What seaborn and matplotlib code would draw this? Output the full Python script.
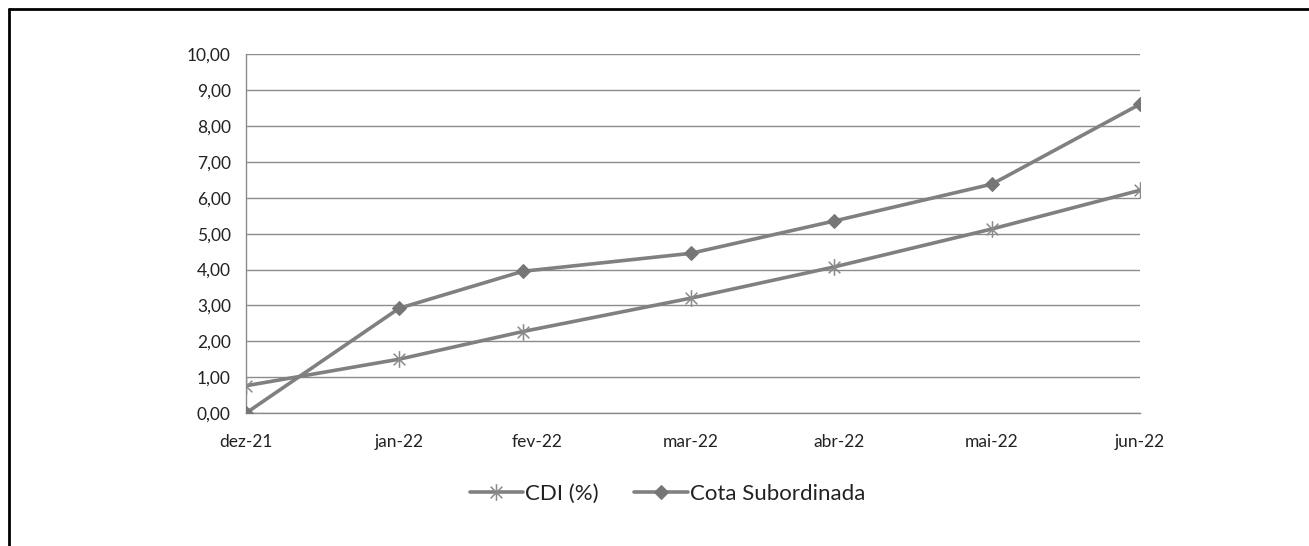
import pandas as pd
import numpy as np
import matplotlib
matplotlib.use("Agg")
import matplotlib.pyplot as plt
from matplotlib.path import Path
from matplotlib.lines import Line2D
import seaborn as sns

sns.set_style("white")
plt.rcParams["font.family"] = ["Lato", "DejaVu Sans"]

# data
dates = pd.to_datetime(["2021-12-31", "2022-01-31", "2022-02-25", "2022-03-31",
                        "2022-04-29", "2022-05-31", "2022-06-30"])
cdi = [0.76, 1.50, 2.27, 3.20, 4.07, 5.13, 6.21]
cota = [0.00, 2.92, 3.95, 4.45, 5.35, 6.38, 8.61]
tick_dates = pd.to_datetime(["2021-12-31", "2022-01-31", "2022-02-28", "2022-03-31",
                             "2022-04-30", "2022-05-31", "2022-06-30"])
tick_labels = ["dez-21", "jan-22", "fev-22", "mar-22", "abr-22", "mai-22", "jun-22"]

df = pd.DataFrame({"data": dates, "CDI (%)": cdi, "Cota Subordinada": cota})

# asterisk marker like excel (x + vertical bar)
star = Path([(-0.7, -0.7), (0.7, 0.7), (-0.7, 0.7), (0.7, -0.7), (0, -1), (0, 1)],
            [Path.MOVETO, Path.LINETO, Path.MOVETO, Path.LINETO, Path.MOVETO, Path.LINETO])

fig = plt.figure(figsize=(13.09, 5.46), dpi=100)
ax = fig.add_axes([0.188, 0.2436, 0.683, 0.657])

line_col = "#808080"
sns.lineplot(data=df, x="data", y="CDI (%)", ax=ax, color=line_col, lw=2.6,
             marker=star, markersize=12, markeredgecolor="#8a8a8a", markeredgewidth=1.1,
             label="CDI (%)", zorder=3)
sns.lineplot(data=df, x="data", y="Cota Subordinada", ax=ax, color=line_col, lw=2.6,
             marker="D", markersize=7.5, markerfacecolor="#767676", markeredgecolor="#767676",
             label="Cota Subordinada", zorder=4)

ax.set_xlim(tick_dates[0], tick_dates[-1])
ax.set_ylim(0, 10)
ax.set_yticks(np.arange(0, 11, 1))
ax.set_yticklabels([f"{v:.2f}".replace(".", ",") for v in np.arange(0, 11, 1)])
ax.set_xticks(tick_dates)
ax.set_xticklabels(tick_labels)
ax.set_xlabel("")
ax.set_ylabel("")

ax.grid(axis="y", color="#8c8c8c", lw=1)
ax.set_axisbelow(True)
for s in ["top", "right"]:
    ax.spines[s].set_visible(False)
for s in ["left", "bottom"]:
    ax.spines[s].set_color("#8c8c8c")
    ax.spines[s].set_linewidth(1)
ax.tick_params(axis="both", which="major", direction="out", length=5, width=1,
               color="#8c8c8c", labelsize=12.5, labelcolor="#222222")
ax.tick_params(axis="x", pad=10)
ax.tick_params(axis="y", pad=6)

leg = ax.legend(loc="center", bbox_to_anchor=(0.51, 0.095), bbox_transform=fig.transFigure,
                ncol=2, frameon=False, fontsize=16, handlelength=2.4, columnspacing=1.6,
                handletextpad=0.1)
for t in leg.get_texts():
    t.set_color("#222222")

# black frame on left and top edges
fig.add_artist(Line2D([0.0065, 0.0065], [0, 0.984], transform=fig.transFigure, color="black", lw=2))
fig.add_artist(Line2D([0.0065, 1], [0.984, 0.984], transform=fig.transFigure, color="black", lw=2))

fig.savefig("out.png", dpi=100, facecolor="white")
